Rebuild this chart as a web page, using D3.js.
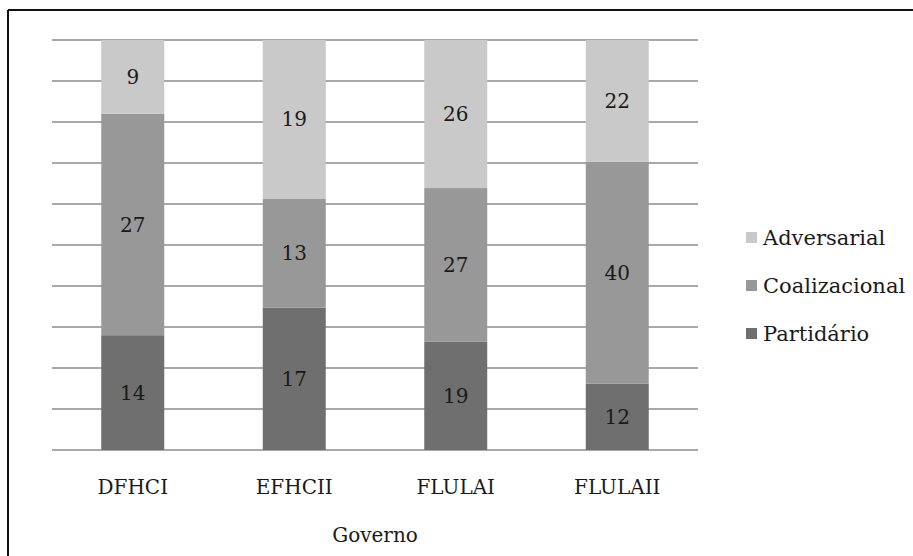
<!DOCTYPE html>
<meta charset="utf-8">
<style>
  body { margin: 0; background: #fff; }
  text { font-family: "DejaVu Serif", "Liberation Serif", serif; fill: #1a1a1a; }
</style>
<script src="https://d3js.org/d3.v7.min.js"></script>
<div id="chart"></div>
<script>
// data
var governos = ["DFHCI", "EFHCII", "FLULAI", "FLULAII"];
var series = ["Partidário", "Coalizacional", "Adversarial"];
var partidario = [14, 17, 19, 12];
var coalizacional = [27, 13, 27, 40];
var adversarial = [9, 19, 26, 22];
var colors = ["#6f6f6f", "#989898", "#c9c9c9"];

var W = 913, H = 556;
var margin = {top: 40, left: 52, right: 215, bottom: 106};
var width = W - margin.left - margin.right,
    height = H - margin.top - margin.bottom;

var svg = d3.select("#chart").append("svg")
  .attr("width", W).attr("height", H);

// frame (top and left lines only)
svg.append("line").attr("x1", 8).attr("x2", W).attr("y1", 10).attr("y2", 10)
  .attr("stroke", "#111").attr("stroke-width", 2);
svg.append("line").attr("x1", 8).attr("x2", 8).attr("y1", 10).attr("y2", H)
  .attr("stroke", "#111").attr("stroke-width", 2);

var g = svg.append("g").attr("transform", "translate(" + margin.left + "," + margin.top + ")");

var rows = governos.map(function(d, i) {
  return {gov: d, "Partidário": partidario[i], "Coalizacional": coalizacional[i], "Adversarial": adversarial[i]};
});

var stack = d3.stack().keys(series).offset(d3.stackOffsetExpand);
var layers = stack(rows);

var x = d3.scaleBand().domain(governos).range([0, width])
  .paddingInner(0.61).paddingOuter(0.305);
var y = d3.scaleLinear().domain([0, 1]).range([height, 0]);

// gridlines
g.append("g")
  .selectAll("line")
  .data(d3.range(0, 1.0001, 0.1))
  .join("line")
    .attr("x1", 0).attr("x2", width)
    .attr("y1", function(d) { return y(d); })
    .attr("y2", function(d) { return y(d); })
    .attr("stroke", "#8c8c8c").attr("stroke-width", 1.5);

// bars
var layer = g.selectAll(".layer")
  .data(layers)
  .join("g")
    .attr("fill", function(d, i) { return colors[i]; });

layer.selectAll("rect")
  .data(function(d) { return d; })
  .join("rect")
    .attr("x", function(d) { return x(d.data.gov); })
    .attr("y", function(d) { return y(d[1]); })
    .attr("height", function(d) { return y(d[0]) - y(d[1]); })
    .attr("width", x.bandwidth());

// value labels
layers.forEach(function(l) {
  g.selectAll(null)
    .data(l)
    .join("text")
      .attr("x", function(d) { return x(d.data.gov) + x.bandwidth() / 2; })
      .attr("y", function(d) { return (y(d[0]) + y(d[1])) / 2; })
      .attr("dy", "0.35em")
      .attr("text-anchor", "middle")
      .style("font-size", "20px")
      .text(function(d) { return d.data[l.key]; });
});

// x axis labels
g.selectAll(".xl")
  .data(governos)
  .join("text")
    .attr("x", function(d) { return x(d) + x.bandwidth() / 2; })
    .attr("y", height + 44)
    .attr("text-anchor", "middle")
    .style("font-size", "20px")
    .text(function(d) { return d; });

g.append("text")
  .attr("x", width / 2)
  .attr("y", height + 92)
  .attr("text-anchor", "middle")
  .style("font-size", "20px")
  .text("Governo");

// legend
var legendItems = series.slice().reverse();
var lg = svg.append("g").attr("transform", "translate(746,245)");
legendItems.forEach(function(s, i) {
  var row = lg.append("g").attr("transform", "translate(0," + (i * 48) + ")");
  row.append("rect").attr("x", 0).attr("y", -13).attr("width", 11).attr("height", 11)
    .attr("fill", colors[series.indexOf(s)]);
  row.append("text").attr("x", 17).attr("y", 0)
    .style("font-size", "21px")
    .text(s);
});
</script>
